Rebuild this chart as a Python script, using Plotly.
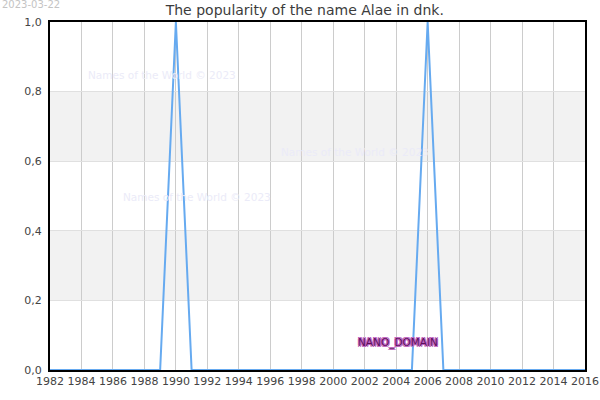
import plotly.graph_objects as go

years = list(range(1982, 2017))
values = [1.0 if y in (1990, 2006) else 0.0 for y in years]
x_ticks = list(range(1982, 2017, 2))
y_ticks = [0.0, 0.2, 0.4, 0.6, 0.8, 1.0]
bands = [(0.2, 0.4), (0.6, 0.8)]
title_text = "The popularity of the name Alae in dnk."
date_text = "2023-03-22"
watermark = "Names of the World © 2023"
watermark_pos = [(0.209, 0.848), (0.275, 0.497), (0.57, 0.626)]

fig = go.Figure()
fig.add_trace(go.Scatter(x=years, y=values, mode="lines",
                         line=dict(color="#66aaf0", width=2), hoverinfo="skip"))

shapes = []
for y0, y1 in bands:
    shapes.append(dict(type="rect", xref="paper", yref="y", x0=0, x1=1, y0=y0, y1=y1,
                       fillcolor="#f2f2f2", line=dict(width=0), layer="below"))

annotations = []
for (px, py) in watermark_pos:
    annotations.append(dict(text=watermark, xref="paper", yref="paper", x=px, y=py,
                            xanchor="center", yanchor="middle",
                            showarrow=False, font=dict(size=10.5, color="#ebebf8", family="DejaVu Sans")))
annotations.append(dict(text="NANO_DOMAIN", xref="paper", yref="paper", x=0.65, y=0.08,
                        xanchor="center", yanchor="middle", showarrow=False,
                        font=dict(size=10.5, color="#5a105a", family="DejaVu Sans",
                                  shadow="-1px -1px 0 #c060c0, 1px -1px 0 #c060c0, -1px 1px 0 #c060c0, 1px 1px 0 #c060c0")))
annotations.append(dict(text=date_text, xref="paper", yref="paper", x=-0.0935, y=1.0517,
                        xanchor="left", yanchor="middle", showarrow=False,
                        font=dict(size=10, color="#c4c4c4", family="DejaVu Sans")))

fig.update_layout(
    width=600, height=400,
    margin=dict(l=50, r=15, t=22, b=30),
    paper_bgcolor="white", plot_bgcolor="white",
    separators=",.",
    showlegend=False,
    title=dict(text=title_text, x=0.508, xanchor="center", y=0.975, yanchor="middle",
               font=dict(size=14, color="#3c3c3c", family="DejaVu Sans")),
    font=dict(family="DejaVu Sans", size=11, color="#444444"),
    shapes=shapes,
    annotations=annotations,
    xaxis=dict(range=[1982, 2016], tickmode="array", tickvals=x_ticks, automargin=False,
               showgrid=True, gridcolor="#cccccc", gridwidth=1,
               showline=True, linecolor="black", linewidth=2, mirror=True,
               ticks="", zeroline=False, tickfont=dict(size=11, color="#444444")),
    yaxis=dict(range=[0, 1.0], tickmode="array", tickvals=y_ticks, tickformat=".1f", automargin=False,
               ticklabelstandoff=4,
               showgrid=True, gridcolor="#e0e0e0", gridwidth=1,
               showline=True, linecolor="black", linewidth=2, mirror=True,
               ticks="", zeroline=False, tickfont=dict(size=11, color="#444444")),
)

fig.write_html("out.html", config={"displayModeBar": False},
               post_script="document.body.style.margin='0';document.body.style.overflow='hidden';")
